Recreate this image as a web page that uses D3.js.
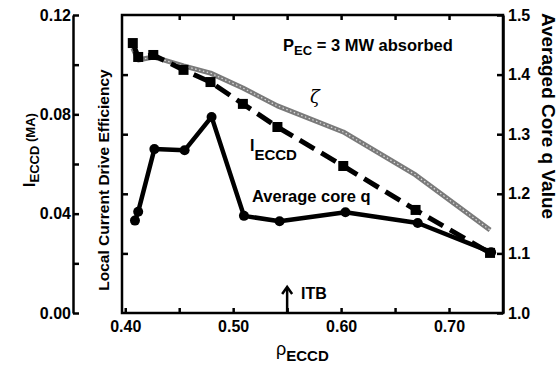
<!DOCTYPE html>
<html lang="en">
<head>
  <meta charset="UTF-8">
  <title>Local ECCD vs rho</title>
  <script src="https://d3js.org/d3.v7.min.js"></script>
  <style>
    body { margin: 0; background: #fff; }
    svg { font-family: "Liberation Sans", Arial, sans-serif; font-weight: bold; }
    .axis path, .axis line { stroke: #000; stroke-width: 2.5; }
    .axis text { font-size: 16px; font-weight: bold; fill: #000; font-family: "Liberation Sans", Arial, sans-serif; }
  </style>
</head>
<body>
  <div id="chart"></div>
  <script>
    // rho positions and values
    const rhoQ = [0.409, 0.412, 0.427, 0.455, 0.480, 0.510, 0.543, 0.604, 0.671, 0.739];
    const coreQ = [1.155, 1.170, 1.275, 1.273, 1.329, 1.163, 1.154, 1.169, 1.151, 1.102];
    const rhoI = [0.407, 0.412, 0.426, 0.454, 0.479, 0.509, 0.541, 0.602, 0.669, 0.738];
    const iEccd = [0.1087, 0.1031, 0.1039, 0.0979, 0.0930, 0.0842, 0.0749, 0.0592, 0.0415, 0.0242];
    const zeta = [0.1067, 0.1019, 0.1031, 0.0995, 0.0966, 0.0906, 0.0834, 0.0729, 0.0556, 0.0334];

    const xTicks = [0.40, 0.45, 0.50, 0.55, 0.60, 0.65, 0.70];
    const xLabels = [0.40, 0.50, 0.60, 0.70];
    const leftTicks = [0, 0.02, 0.04, 0.06, 0.08, 0.10, 0.12];
    const leftLabels = [0, 0.04, 0.08, 0.12];
    const rightTicks = [1.0, 1.1, 1.2, 1.3, 1.4, 1.5];
    const itbRho = 0.55;

    const W = 559, H = 371;
    const box = {left: 122, right: 503, top: 15, bottom: 313};
    const leftAxisX = 73;

    const svg = d3.select("#chart").append("svg")
      .attr("width", W).attr("height", H);

    const x = d3.scaleLinear().domain([0.397, 0.75]).range([box.left, box.right]);
    const yL = d3.scaleLinear().domain([0, 0.12]).range([box.bottom, box.top]);
    const yR = d3.scaleLinear().domain([1.0, 1.5]).range([box.bottom, box.top]);

    // frame of the plot
    svg.append("rect")
      .attr("x", box.left).attr("y", box.top)
      .attr("width", box.right - box.left).attr("height", box.bottom - box.top)
      .attr("fill", "none").attr("stroke", "#000").attr("stroke-width", 2.5);

    // bottom axis, ticks inward
    svg.append("g").attr("class", "axis")
      .attr("transform", "translate(0," + box.bottom + ")")
      .call(d3.axisBottom(x).tickValues(xTicks).tickSizeInner(-5).tickSizeOuter(0).tickPadding(8)
        .tickFormat(d => xLabels.some(v => Math.abs(v - d) < 1e-6) ? d3.format(".2f")(d) : ""))
      .call(g => g.select(".domain").remove());

    // top edge ticks
    svg.append("g").attr("class", "axis")
      .attr("transform", "translate(0," + box.top + ")")
      .call(d3.axisTop(x).tickValues(xTicks.slice(1)).tickSizeInner(-5).tickSizeOuter(0).tickFormat(""))
      .call(g => g.select(".domain").remove());

    // separate left axis for I_ECCD
    svg.append("g").attr("class", "axis")
      .attr("transform", "translate(" + leftAxisX + ",0)")
      .call(d3.axisLeft(yL).tickValues(leftTicks).tickSizeInner(-6).tickSizeOuter(0).tickPadding(2)
        .tickFormat(d => leftLabels.some(v => Math.abs(v - d) < 1e-6) ? d3.format(".2f")(d) : ""));

    // right axis for core q
    svg.append("g").attr("class", "axis")
      .attr("transform", "translate(" + box.right + ",0)")
      .call(d3.axisRight(yR).tickValues(rightTicks).tickSizeInner(-6).tickSizeOuter(0).tickPadding(5)
        .tickFormat(d3.format(".1f")));

    // mirrored q ticks on the left edge of the frame
    svg.append("g").attr("class", "axis")
      .attr("transform", "translate(" + box.left + ",0)")
      .call(d3.axisLeft(yR).tickValues(rightTicks.slice(1, -1)).tickSizeInner(-6).tickSizeOuter(0).tickFormat(""))
      .call(g => g.select(".domain").remove());

    // zeta, thick grey stippled line
    const zetaPts = rhoI.map((r, i) => [x(r), yL(zeta[i])]);
    svg.append("path")
      .attr("d", d3.line()(zetaPts))
      .attr("fill", "none").attr("stroke", "#7a7a7a").attr("stroke-width", 5)
      .attr("stroke-linejoin", "round");
    svg.append("path")
      .attr("d", d3.line()(zetaPts))
      .attr("fill", "none").attr("stroke", "#d8d8d8").attr("stroke-width", 1.3)
      .attr("stroke-dasharray", "1.5,2.5");

    // I_ECCD dashed with squares
    const iPts = rhoI.map((r, i) => [x(r), yL(iEccd[i])]);
    svg.append("path")
      .attr("d", d3.line()(iPts))
      .attr("fill", "none").attr("stroke", "#000").attr("stroke-width", 5)
      .attr("stroke-dasharray", "17,8");
    svg.selectAll(".sq").data(iPts).enter().append("rect")
      .attr("x", d => d[0] - 5).attr("y", d => d[1] - 5)
      .attr("width", 10).attr("height", 10).attr("fill", "#000");

    // average core q solid with circles
    const qPts = rhoQ.map((r, i) => [x(r), yR(coreQ[i])]);
    svg.append("path")
      .attr("d", d3.line()(qPts))
      .attr("fill", "none").attr("stroke", "#000").attr("stroke-width", 4.5)
      .attr("stroke-linejoin", "round");
    svg.selectAll(".dot").data(qPts).enter().append("circle")
      .attr("cx", d => d[0]).attr("cy", d => d[1]).attr("r", 5).attr("fill", "#000");

    // annotations
    const pec = svg.append("text").attr("x", 283).attr("y", 51).attr("font-size", 16.5);
    pec.append("tspan").text("P");
    pec.append("tspan").attr("font-size", 13).attr("dy", 4).text("EC");
    pec.append("tspan").attr("dy", -4).text(" = 3 MW absorbed");

    svg.append("text").attr("x", 315).attr("y", 103).attr("text-anchor", "middle")
      .attr("font-size", 18).attr("font-weight", "normal")
      .attr("font-family", "DejaVu Serif, serif").attr("font-style", "italic").text("ζ");

    const il = svg.append("text").attr("x", 250).attr("y", 151).attr("font-size", 16);
    il.append("tspan").text("I");
    il.append("tspan").attr("font-size", 15).attr("dy", 9).text("ECCD");

    svg.append("text").attr("x", 252).attr("y", 202).attr("font-size", 16.5).text("Average core q");

    svg.append("text").attr("x", 301).attr("y", 299).attr("font-size", 16).text("ITB");

    // ITB arrow
    const ax = x(itbRho);
    svg.append("line").attr("x1", ax).attr("x2", ax).attr("y1", box.bottom).attr("y2", 288)
      .attr("stroke", "#000").attr("stroke-width", 2.5);
    svg.append("path").attr("d", `M${ax - 5},${294} L${ax},${287} L${ax + 5},${294}`)
      .attr("fill", "none").attr("stroke", "#000").attr("stroke-width", 2.5);

    // axis titles
    const xt = svg.append("text").attr("x", 276).attr("y", 355).attr("font-size", 18).attr("font-weight", "normal");
    xt.append("tspan").text("ρ");
    xt.append("tspan").attr("font-size", 15).attr("font-weight", "bold").attr("dy", 6).text("ECCD");

    const lt = svg.append("text").attr("transform", "translate(35,150) rotate(-90)")
      .attr("text-anchor", "middle").attr("font-size", 16);
    lt.append("tspan").text("I");
    lt.append("tspan").attr("font-size", 13).attr("dy", 4).text("ECCD");
    lt.append("tspan").attr("font-size", 13).attr("dy", -4).text(" (MA)");

    svg.append("text").attr("transform", "translate(109,180) rotate(-90)")
      .attr("text-anchor", "middle").attr("font-size", 15.5).text("Local Current Drive Efficiency");

    svg.append("text").attr("transform", "translate(542,116) rotate(90)")
      .attr("text-anchor", "middle").attr("font-size", 19).text("Averaged Core q Value");
  </script>
</body>
</html>
